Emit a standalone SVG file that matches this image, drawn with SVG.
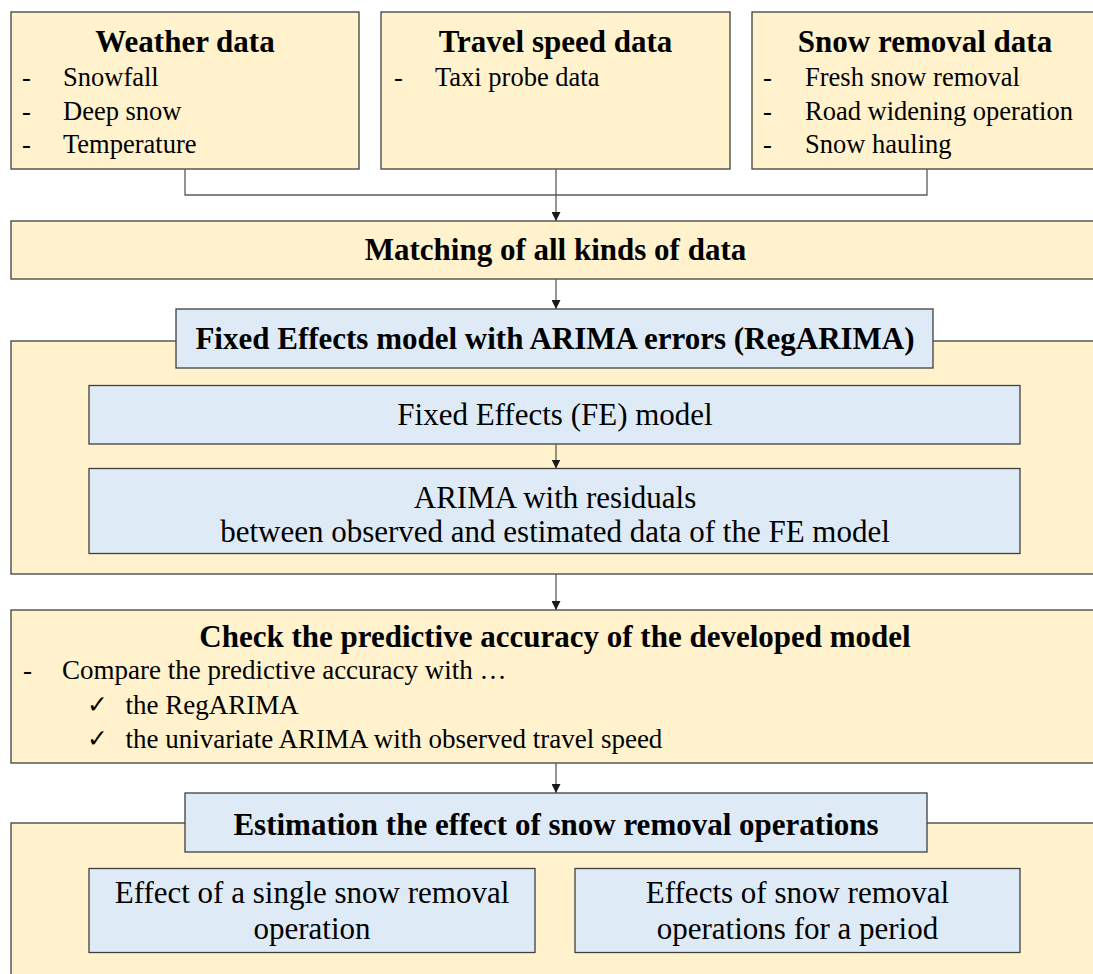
<svg xmlns="http://www.w3.org/2000/svg" width="1093" height="974" viewBox="0 0 1093 974">
<defs>
<marker id="arr" viewBox="0 0 10 10" refX="10" refY="5" markerWidth="9" markerHeight="9" markerUnits="userSpaceOnUse" orient="auto">
<path d="M0,0 L10,5 L0,10 z" fill="#1a1a1a"/>
</marker>
<style>
.y{fill:#FFF2CC;stroke:#404040;stroke-width:1.3}
.b{fill:#DEEBF7;stroke:#404040;stroke-width:1.3}
.t{font-family:"Liberation Serif","Times New Roman",serif;fill:#000}
.h{font-size:31px;font-weight:bold;text-anchor:middle}
.s{font-size:26.5px}
.c{font-size:27px}
.m{font-size:31px;text-anchor:middle}
.ln{fill:none;stroke:#5a5a5a;stroke-width:1.3}
.ck{font-family:"DejaVu Sans",sans-serif;font-size:25px}
</style>
</defs>
<rect width="1093" height="974" fill="#fff"/>

<g id="weather">
<rect class="y" x="11" y="12" width="348" height="157"/>
<text class="t h" x="185" y="52">Weather data</text>
<text class="t s" x="22" y="86">-</text><text class="t s" x="63" y="86">Snowfall</text>
<text class="t s" x="22" y="119.5">-</text><text class="t s" x="63" y="119.5">Deep snow</text>
<text class="t s" x="22" y="153">-</text><text class="t s" x="63" y="153">Temperature</text>
</g>

<g id="travel">
<rect class="y" x="381" y="12" width="349" height="157"/>
<text class="t h" x="555.5" y="52">Travel speed data</text>
<text class="t s" x="394" y="86">-</text><text class="t s" x="435" y="86">Taxi probe data</text>
</g>

<g id="snowdata">
<rect class="y" x="752" y="12" width="346" height="157"/>
<text class="t h" x="925" y="52">Snow removal data</text>
<text class="t s" x="763" y="86">-</text><text class="t s" x="805" y="86">Fresh snow removal</text>
<text class="t s" x="763" y="119.5">-</text><text class="t s" x="805" y="119.5">Road widening operation</text>
<text class="t s" x="763" y="153">-</text><text class="t s" x="805" y="153">Snow hauling</text>
</g>

<g id="matching">
<rect class="y" x="11" y="221" width="1090" height="58"/>
<text class="t h" x="555.5" y="260">Matching of all kinds of data</text>
</g>

<g id="regarima">
<rect class="y" x="11" y="341" width="1090" height="233"/>
<rect class="b" x="176" y="309" width="757" height="59"/>
<text class="t h" x="555" y="349">Fixed Effects model with ARIMA errors (RegARIMA)</text>
</g>

<g id="fe">
<rect class="b" x="89" y="385.5" width="931" height="58.5"/>
<text class="t m" x="555" y="425">Fixed Effects (FE) model</text>
</g>

<g id="arima">
<rect class="b" x="89" y="468.5" width="931" height="85"/>
<text class="t m" x="555" y="508">ARIMA with residuals</text>
<text class="t m" x="555" y="541.5">between observed and estimated data of the FE model</text>
</g>

<g id="check">
<rect class="y" x="11" y="610" width="1090" height="153"/>
<text class="t h" x="555" y="647">Check the predictive accuracy of the developed model</text>
<text class="t c" x="23" y="679">-</text><text class="t c" x="62" y="679">Compare the predictive accuracy with …</text>
<text class="ck" x="87" y="713">✓</text><text class="t c" x="125.5" y="713.5">the RegARIMA</text>
<text class="ck" x="87" y="747">✓</text><text class="t c" x="125.5" y="747.5">the univariate ARIMA with observed travel speed</text>
</g>

<g id="estimation">
<rect class="y" x="11" y="823" width="1090" height="170"/>
<rect class="b" x="185" y="793" width="742" height="59"/>
<text class="t h" x="556" y="835">Estimation the effect of snow removal operations</text>
</g>

<g id="single">
<rect class="b" x="89" y="868.5" width="446" height="84"/>
<text class="t m" x="312" y="903">Effect of a single snow removal</text>
<text class="t m" x="312" y="939">operation</text>
</g>

<g id="period">
<rect class="b" x="575" y="868.5" width="445" height="84"/>
<text class="t m" x="797.5" y="903">Effects of snow removal</text>
<text class="t m" x="797.5" y="939">operations for a period</text>
</g>

<g id="connectors">
<polyline class="ln" points="185,169 185,195 927,195 927,169"/>
<line class="ln" x1="556" y1="169" x2="556" y2="221" marker-end="url(#arr)"/>
<line class="ln" x1="556" y1="279" x2="556" y2="309" marker-end="url(#arr)"/>
<line class="ln" x1="556" y1="444" x2="556" y2="468.5" marker-end="url(#arr)"/>
<line class="ln" x1="556" y1="574" x2="556" y2="610" marker-end="url(#arr)"/>
<line class="ln" x1="556" y1="763" x2="556" y2="793" marker-end="url(#arr)"/>
</g>
</svg>
